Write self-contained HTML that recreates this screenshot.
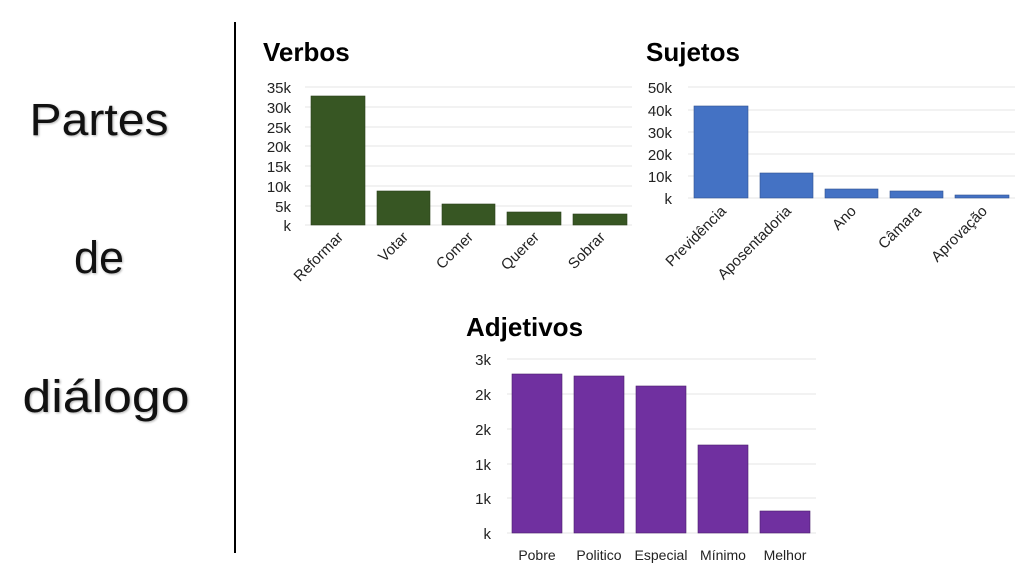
<!DOCTYPE html>
<html><head><meta charset="utf-8"><style>body{margin:0;background:#fff}svg{display:block}text{font-family:"Liberation Sans",sans-serif}</style></head><body>
<svg width="1024" height="576" viewBox="0 0 1024 576" xmlns="http://www.w3.org/2000/svg">
<rect width="1024" height="576" fill="#fff"/>
<g font-size="45" text-anchor="middle" fill="#111" style="text-shadow:1px 1px 2px rgba(0,0,0,.3)">
<text x="99" y="135" textLength="139" lengthAdjust="spacingAndGlyphs">Partes</text>
<text x="99" y="273">de</text>
<text x="106" y="412" textLength="167" lengthAdjust="spacingAndGlyphs">diálogo</text>
</g>
<line x1="235" y1="22" x2="235" y2="553" stroke="#000" stroke-width="2"/>
<g font-weight="bold" font-size="26" fill="#000">
<text x="263" y="61">Verbos</text>
<text x="646" y="61">Sujetos</text>
<text x="466" y="336">Adjetivos</text>
</g>
<!-- Verbos -->
<g stroke="#e6e6e6" stroke-width="1">
<line x1="305" x2="632" y1="87" y2="87"/><line x1="305" x2="632" y1="107" y2="107"/><line x1="305" x2="632" y1="127" y2="127"/><line x1="305" x2="632" y1="146" y2="146"/><line x1="305" x2="632" y1="166" y2="166"/><line x1="305" x2="632" y1="186" y2="186"/><line x1="305" x2="632" y1="206" y2="206"/><line x1="305" x2="632" y1="225" y2="225"/>
</g>
<g font-size="15" text-anchor="end" fill="#222">
<text x="291" y="93">35k</text><text x="291" y="113">30k</text><text x="291" y="133">25k</text><text x="291" y="152">20k</text><text x="291" y="172">15k</text><text x="291" y="192">10k</text><text x="291" y="212">5k</text><text x="291" y="231">k</text>
</g>
<g fill="#375623" stroke="#2a4019" stroke-width="0.6">
<rect x="311" y="96" width="54" height="129"/><rect x="377" y="191" width="53" height="34"/><rect x="442" y="204" width="53" height="21"/><rect x="507" y="212" width="54" height="13"/><rect x="573" y="214" width="54" height="11"/>
</g>
<g font-size="15" text-anchor="end" fill="#222">
<text transform="translate(344,238) rotate(-45)">Reformar</text>
<text transform="translate(409,238) rotate(-45)">Votar</text>
<text transform="translate(474,238) rotate(-45)">Comer</text>
<text transform="translate(540,238) rotate(-45)">Querer</text>
<text transform="translate(606,238) rotate(-45)">Sobrar</text>
</g>
<!-- Sujetos -->
<g stroke="#e6e6e6">
<line x1="688" x2="1015" y1="87" y2="87"/><line x1="688" x2="1015" y1="110" y2="110"/><line x1="688" x2="1015" y1="132" y2="132"/><line x1="688" x2="1015" y1="154" y2="154"/><line x1="688" x2="1015" y1="176" y2="176"/><line x1="688" x2="1015" y1="198" y2="198"/>
</g>
<g font-size="15" text-anchor="end" fill="#222">
<text x="672" y="93">50k</text><text x="672" y="116">40k</text><text x="672" y="138">30k</text><text x="672" y="160">20k</text><text x="672" y="182">10k</text><text x="672" y="204">k</text>
</g>
<g fill="#4472c4" stroke="#2f528f" stroke-width="0.6">
<rect x="694" y="106" width="54" height="92"/><rect x="760" y="173" width="53" height="25"/><rect x="825" y="189" width="53" height="9"/><rect x="890" y="191" width="53" height="7"/><rect x="955" y="195" width="54" height="3"/>
</g>
<g font-size="15" text-anchor="end" fill="#222">
<text transform="translate(727,212) rotate(-45)">Previdência</text>
<text transform="translate(792,212) rotate(-45)">Aposentadoria</text>
<text transform="translate(857,212) rotate(-45)">Ano</text>
<text transform="translate(922,212) rotate(-45)">Câmara</text>
<text transform="translate(988,212) rotate(-45)">Aprovação</text>
</g>
<!-- Adjetivos -->
<g stroke="#e6e6e6">
<line x1="507" x2="816" y1="359" y2="359"/><line x1="507" x2="816" y1="394" y2="394"/><line x1="507" x2="816" y1="429" y2="429"/><line x1="507" x2="816" y1="464" y2="464"/><line x1="507" x2="816" y1="498" y2="498"/><line x1="507" x2="816" y1="533" y2="533"/>
</g>
<g font-size="15" text-anchor="end" fill="#222">
<text x="491" y="365">3k</text><text x="491" y="400">2k</text><text x="491" y="435">2k</text><text x="491" y="470">1k</text><text x="491" y="504">1k</text><text x="491" y="539">k</text>
</g>
<g fill="#7030a0" stroke="#4a1f6b" stroke-width="0.6">
<rect x="512" y="374" width="50" height="159"/><rect x="574" y="376" width="50" height="157"/><rect x="636" y="386" width="50" height="147"/><rect x="698" y="445" width="50" height="88"/><rect x="760" y="511" width="50" height="22"/>
</g>
<g font-size="14" text-anchor="middle" fill="#222">
<text x="537" y="560">Pobre</text><text x="599" y="560">Politico</text><text x="661" y="560">Especial</text><text x="723" y="560">Mínimo</text><text x="785" y="560">Melhor</text>
</g>
</svg>
</body></html>
